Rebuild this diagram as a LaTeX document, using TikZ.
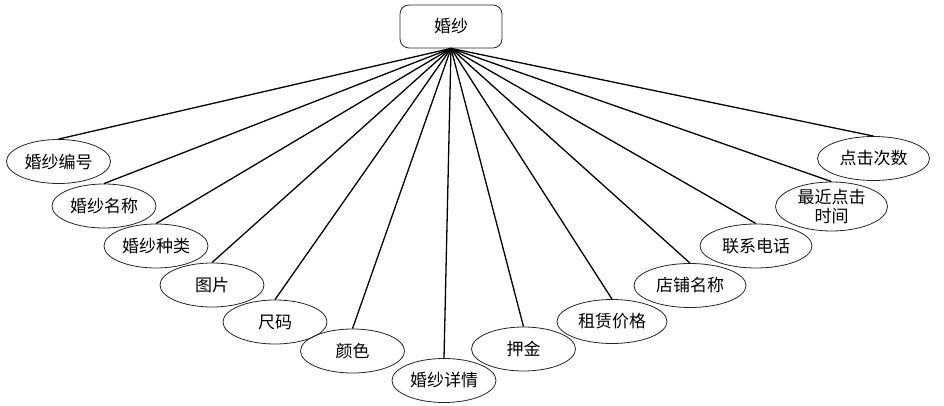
\documentclass[tikz,border=0pt]{standalone}
\usepackage{fontspec}
\setmainfont{Noto Sans CJK SC}
\usetikzlibrary{shapes.geometric}
\begin{document}
\begin{tikzpicture}[x=1pt,y=-1pt,
  attr/.style={ellipse,draw=black!85,line width=0.8pt,inner sep=0pt,minimum width=#1,minimum height=44pt,font=\fontsize{17}{18}\selectfont,align=center},
  attr/.default=104pt,
  ent/.style={rectangle,rounded corners=9pt,draw=black!85,line width=0.8pt,minimum width=102pt,minimum height=43pt,font=\fontsize{17}{18}\selectfont},
  conn/.style={line width=1.3pt,black}]
\useasboundingbox (0,0) rectangle (944,406);
\node[ent] (top) at (451,26.5) {婚纱};
\node[attr] (a1) at (58.5,161.5) {婚纱编号};
\node[attr] (a2) at (104,206) {婚纱名称};
\node[attr] (a3) at (156,246) {婚纱种类};
\node[attr] (a4) at (212,285) {图片};
\node[attr] (a5) at (275,322) {尺码};
\node[attr] (a6) at (352.5,351) {颜色};
\node[attr] (a7) at (444,380.5) {婚纱详情};
\node[attr] (a8) at (523.5,349) {押金};
\node[attr=110pt] (a9) at (612,321.5) {租赁价格};
\node[attr=112pt] (a10) at (690,285.5) {店铺名称};
\node[attr=112pt] (a11) at (756,246) {联系电话};
\node[attr=112pt,font=\fontsize{17}{19}\selectfont] (a12) at (831.5,206.5) {最近点击\\时间};
\node[attr=112pt] (a13) at (873.5,158.5) {点击次数};
\foreach \i in {1,...,13}{
  \draw[conn] (top.south) -- (a\i.north);
}
\end{tikzpicture}
\end{document}
